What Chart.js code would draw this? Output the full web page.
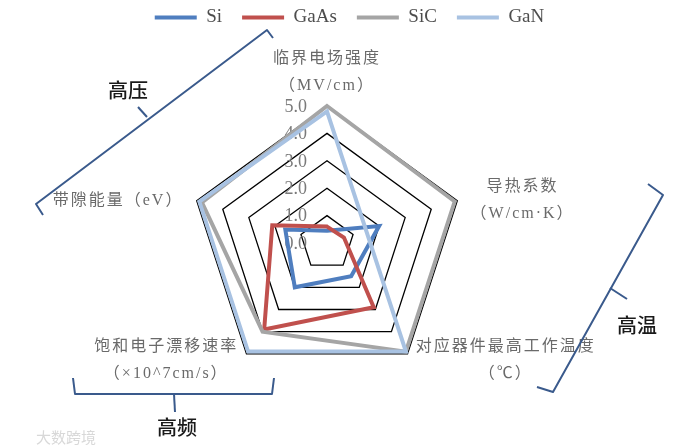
<!DOCTYPE html>
<html>
<head>
<meta charset="utf-8">
<script src="https://cdn.jsdelivr.net/npm/chart.js@4.4.1/dist/chart.umd.min.js"></script>
<style>
  html, body { margin: 0; padding: 0; background: #fff; }
</style>
</head>
<body>
<canvas id="chart" width="699" height="446"></canvas>
<script>
// axis labels (one entry per spoke, each split into its printed lines)
const axisLabels = [
  ["临界电场强度", "（MV/cm）"],
  ["导热系数", "（W/cm·K）"],
  ["对应器件最高工作温度", "（℃）"],
  ["饱和电子漂移速率", "（×10^7cm/s）"],
  ["带隙能量（eV）"],
];
const seriesNames = ["Si", "GaAs", "SiC", "GaN"];
const siValues = [0.45, 2.0, 1.5, 2.0, 1.6];
const gaasValues = [0.6, 0.65, 2.9, 3.9, 2.1];
const sicValues = [5.0, 4.9, 4.9, 4.0, 4.8];
const ganValues = [4.8, 1.5, 4.9, 4.9, 4.9];
const tickValues = [0, 1, 2, 3, 4, 5];

const colors = ["#4F7EBF", "#C0504D", "#A5A5A5", "#A8C2E2"];
const serif = '"Liberation Serif", "Noto Sans CJK SC", serif';

// where the radar sits on the canvas
const PLOT_CX = 327;
const PLOT_CY = 243;
const PLOT_R = 137;

Chart.defaults.font.family = serif;

const radarText = {
  id: "radarText",
  beforeDatasetsDraw(chart) {
    const { ctx } = chart;
    const scale = chart.scales.r;
    ctx.save();
    // tick labels, left of the vertical spoke
    ctx.font = "18px " + serif;
    ctx.fillStyle = "#7a7a7a";
    ctx.textAlign = "right";
    ctx.textBaseline = "middle";
    tickValues.forEach((v) => {
      const d = scale.getDistanceFromCenterForValue(v);
      ctx.fillText(v.toFixed(1), scale.xCenter - 20, scale.yCenter - d + 1);
    });

    // spoke labels, lines centred inside their block
    ctx.font = "16px " + serif;
    ctx.letterSpacing = "2px";
    ctx.textAlign = "center";
    ctx.fillStyle = "#6a6a6a";
    const lh = 27;
    axisLabels.forEach((lines, i) => {
      const p = scale.getPointPosition(i, scale.drawingArea + 14);
      const w = Math.max(...lines.map((l) => ctx.measureText(l).width));
      const h = lh * lines.length;
      let cx = p.x;
      if (p.x > scale.xCenter + 1) cx = p.x + w / 2;
      else if (p.x < scale.xCenter - 1) cx = p.x - w / 2;
      let top;
      if (p.y < scale.yCenter - scale.drawingArea) top = p.y - h + 7;
      else if (p.y > scale.yCenter) top = p.y - h / 2 - 5;
      else top = p.y - h / 2 + 4;
      lines.forEach((l, k) => ctx.fillText(l, cx, top + lh * k + lh / 2));
    });
    ctx.restore();
  },
  afterDraw(chart) {
    const { ctx } = chart;
    ctx.save();
    // braces grouping the properties
    ctx.strokeStyle = "#3A5A8C";
    ctx.lineWidth = 2;
    ctx.lineJoin = "round";
    const path = (pts) => {
      ctx.beginPath();
      pts.forEach(([x, y], i) => (i ? ctx.lineTo(x, y) : ctx.moveTo(x, y)));
      ctx.stroke();
    };
    path([[43, 215], [36, 204], [267, 30], [273, 38]]);
    path([[147, 117], [138, 107]]);
    path([[648, 184], [663, 195], [553, 392], [537, 387]]);
    path([[610, 288], [627, 299]]);
    path([[73, 378], [75, 394], [272, 394], [274, 378]]);
    path([[174, 394], [175, 412]]);

    ctx.fillStyle = "#1a1a1a";
    ctx.font = '500 20px "Noto Sans CJK SC"';
    ctx.textAlign = "center";
    ctx.textBaseline = "middle";
    ctx.fillText("高压", 128, 90);
    ctx.fillText("高温", 637, 325);
    ctx.fillText("高频", 177, 427);

    ctx.fillStyle = "#d8d8d8";
    ctx.font = '15px "Noto Sans CJK SC"';
    ctx.textAlign = "left";
    ctx.fillText("大数跨境", 36, 437);
    ctx.restore();
  },
};

const datasets = [siValues, gaasValues, sicValues, ganValues].map((data, i) => ({
  label: seriesNames[i],
  data: data,
  borderColor: colors[i],
  backgroundColor: colors[i],
  borderWidth: 4,
  borderJoinStyle: "miter",
  fill: false,
  pointRadius: 0,
  tension: 0,
  order: 4 - i,
}));

new Chart(document.getElementById("chart"), {
  type: "radar",
  data: { labels: axisLabels, datasets: datasets },
  plugins: [radarText],
  options: {
    responsive: false,
    animation: false,
    events: [],
    layout: { padding: { top: -12 } },
    scales: {
      r: {
        min: 0,
        max: 5,
        ticks: { display: false, stepSize: 1 },
        grid: { color: "#000", lineWidth: 1.3 },
        angleLines: { display: false },
        pointLabels: { display: false },
        afterFit(scale) {
          scale.xCenter = PLOT_CX;
          scale.yCenter = PLOT_CY;
          scale.drawingArea = PLOT_R;
        },
      },
    },
    plugins: {
      tooltip: { enabled: false },
      legend: {
        position: "top",
        labels: {
          boxWidth: 42,
          boxHeight: 4,
          padding: 20,
          color: "#4d4d4d",
          font: { size: 19, family: serif },
          sort: (a, b) => a.datasetIndex - b.datasetIndex,
          generateLabels(chart) {
            const items = Chart.defaults.plugins.legend.labels.generateLabels(chart);
            items.forEach((it) => {
              it.fillStyle = it.strokeStyle;
              it.lineWidth = 0;
            });
            return items;
          },
        },
      },
    },
  },
});
</script>
</body>
</html>
